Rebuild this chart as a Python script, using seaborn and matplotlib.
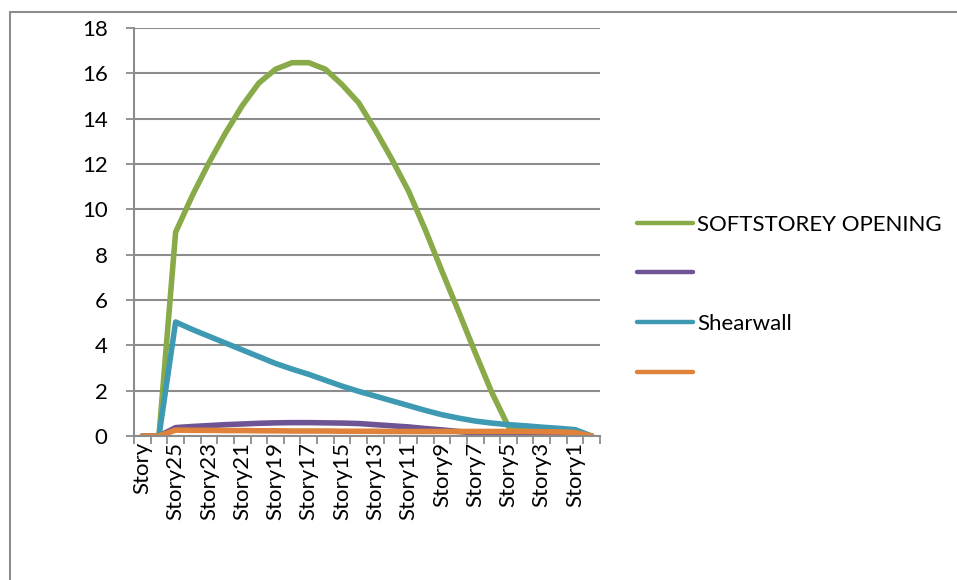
import matplotlib
matplotlib.use("Agg")
import matplotlib.pyplot as plt
from matplotlib.lines import Line2D
import seaborn as sns
import pandas as pd

# Storey categories along the x axis (top of building first)
stories = ["Story"] + [f"Story{n}" for n in range(26, 0, -1)] + ["Base"]

# Storey displacement values per model
softstorey_opening = [0, 0, 8.99, 10.6, 12.05, 13.37, 14.57, 15.57, 16.18, 16.47,
                      16.47, 16.18, 15.5, 14.7, 13.5, 12.2, 10.8, 9.1, 7.28, 5.5,
                      3.68, 1.92, 0.41, 0.33, 0.27, 0.22, 0.17, 0]
series_purple = [0, 0, 0.37, 0.42, 0.46, 0.5, 0.53, 0.56, 0.58, 0.59, 0.59, 0.58,
                 0.57, 0.55, 0.5, 0.45, 0.4, 0.33, 0.27, 0.2, 0.13, 0.07, 0.03,
                 0.02, 0.02, 0.01, 0.01, 0]
shearwall = [0, 0, 5.03, 4.7, 4.4, 4.1, 3.8, 3.5, 3.2, 2.95, 2.72, 2.46, 2.2, 1.97,
             1.76, 1.55, 1.34, 1.13, 0.94, 0.79, 0.66, 0.57, 0.5, 0.45, 0.39,
             0.34, 0.28, 0]
series_orange = [0, 0, 0.26, 0.25, 0.25, 0.24, 0.24, 0.23, 0.23, 0.22, 0.22, 0.22,
                 0.21, 0.21, 0.21, 0.2, 0.2, 0.2, 0.2, 0.2, 0.2, 0.2, 0.2, 0.2,
                 0.19, 0.18, 0.15, 0]

legend_labels = ["SOFTSTOREY OPENING", "", "Shearwall", ""]
y_ticks = list(range(0, 19, 2))

colors = ["#88AA48", "#6E5494", "#3E9AB3", "#E0823A"]
grid_gray = "#8C8C8C"
font_size = 16

sns.set_theme(style="white")
plt.rcParams["font.family"] = ["Lato", "DejaVu Sans"]
plt.rcParams["text.color"] = "black"
plt.rcParams["xtick.color"] = "black"
plt.rcParams["ytick.color"] = "black"

fig = plt.figure(figsize=(9.57, 5.8), dpi=100)
W, H = 957, 580
ax = fig.add_axes([134 / W, 1 - 436 / H, (600 - 134) / W, (436 - 28) / H])

pos = list(range(len(stories)))
all_series = [softstorey_opening, series_purple, shearwall, series_orange]
for vals, col in zip(all_series, colors):
    df = pd.DataFrame({"pos": pos, "value": vals})
    sns.lineplot(data=df, x="pos", y="value", ax=ax, color=col, lw=4.0,
                 sort=False, solid_capstyle="round", solid_joinstyle="round",
                 legend=False)

ax.set_xlim(-0.5, len(stories) - 0.5)
ax.set_ylim(0, 18)
ax.set_yticks(y_ticks)
ax.set_yticklabels([str(t) for t in y_ticks], fontsize=font_size)
ax.yaxis.grid(True, color=grid_gray, lw=1.5)
ax.set_axisbelow(True)

# Category boundaries carry the tick marks, labels sit on every other category
ax.set_xticks([i - 0.5 for i in range(len(stories) + 1)])
ax.set_xticklabels([])
ax.set_xticks(pos[::2], minor=True)
ax.set_xticklabels(stories[::2], minor=True, rotation=90, fontsize=font_size,
                   va="top", ha="center")
ax.tick_params(axis="x", which="major", direction="out", length=6, width=1.3,
               color=grid_gray, bottom=True)
ax.tick_params(axis="x", which="minor", length=0, pad=4, labelcolor="black")
ax.tick_params(axis="y", direction="out", length=6, width=1.3, color=grid_gray,
               left=True, pad=13, labelcolor="black")
ax.set_xlabel("")
ax.set_ylabel("")

for side in ["top", "right"]:
    ax.spines[side].set_visible(False)
for side in ["left", "bottom"]:
    ax.spines[side].set_color(grid_gray)
    ax.spines[side].set_linewidth(1.5)

handles = [Line2D([0], [0], color=c, lw=3.2, solid_capstyle="round") for c in colors]
fig.legend(handles, legend_labels, loc="center left",
           bbox_to_anchor=(637 / W, 1 - 299 / H), frameon=False, fontsize=font_size,
           handlelength=2.5, handletextpad=0.22, labelspacing=1.33,
           borderpad=0, borderaxespad=0)

# Chart area outline
fig.add_artist(Line2D([10 / W, 10 / W], [0, 1 - 12 / H], transform=fig.transFigure,
                      color=grid_gray, lw=1.5))
fig.add_artist(Line2D([10 / W, 1], [1 - 12 / H, 1 - 12 / H], transform=fig.transFigure,
                      color=grid_gray, lw=1.5))

fig.savefig("out.png", dpi=100)
